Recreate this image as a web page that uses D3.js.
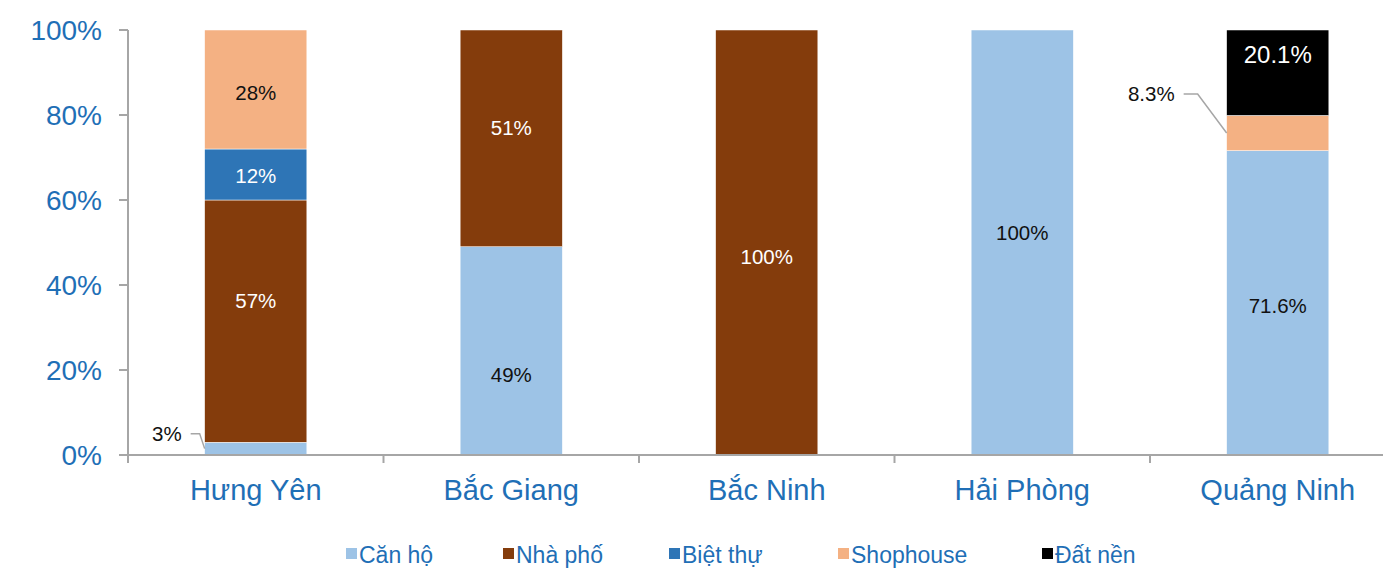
<!DOCTYPE html>
<html>
<head>
<meta charset="utf-8">
<script src="https://cdn.jsdelivr.net/npm/d3@7"></script>
<style>
  html, body { margin: 0; padding: 0; background: #fff; }
  svg { display: block; font-family: "Liberation Sans", Arial, sans-serif; }
</style>
</head>
<body>
<svg id="chart" width="1383" height="569"></svg>
<script>
// Cơ cấu nguồn cung theo loại hình, theo tỉnh (%)
const categories = ["Hưng Yên", "Bắc Giang", "Bắc Ninh", "Hải Phòng", "Quảng Ninh"];
const seriesNames = ["Căn hộ", "Nhà phố", "Biệt thự", "Shophouse", "Đất nền"];
const canHo     = [3, 49, 0, 100, 71.6];
const nhaPho    = [57, 51, 100, 0, 0];
const bietThu   = [12, 0, 0, 0, 0];
const shophouse = [28, 0, 0, 0, 8.3];
const datNen    = [0, 0, 0, 0, 20.1];
const yTicks    = [0, 20, 40, 60, 80, 100];
const labelText = [
  ["3%", "49%", "", "100%", "71.6%"],
  ["57%", "51%", "100%", "", ""],
  ["12%", "", "", "", ""],
  ["28%", "", "", "", "8.3%"],
  ["", "", "", "", "20.1%"]
];

// Styling
const colors = ["#9DC3E6", "#843C0C", "#2E75B6", "#F4B183", "#000000"];
const labelColors = ["#111", "#fff", "#fff", "#111", "#fff"];
const axisBlue = "#1F6FB6";
const axisGray = "#A6A6A6";

// Layout
const margin = { left: 128, top: 30, bottom: 455 };
const step = 255.5;
const legendX = [346, 503, 669, 838, 1042];
// vertical nudges (px) for label placement inside segments, keyed "series,category"
const labelNudge = {
  "3,0": 3, "1,0": -21, "2,0": 1,
  "1,1": -11, "0,1": 24,
  "1,2": 14, "0,3": -10,
  "0,4": 3, "4,4": -18
};
const labelSize = { "4,4": 24 };
// callouts drawn outside the bar with a leader line
const callouts = {
  "0,0": { sx: -14, ex: -5, dy: -15 },
  "3,4": { sx: -43, ex: -29, dy: -39 }
};

const svg = d3.select("#chart");
const seriesValues = [canHo, nhaPho, bietThu, shophouse, datNen];

const x = d3.scaleBand()
  .domain(categories)
  .range([margin.left, margin.left + step * categories.length])
  .paddingInner(0.6)
  .paddingOuter(0.3);

const y = d3.scaleLinear().domain([0, 100]).range([margin.bottom, margin.top]);

// Stack data
const rows = categories.map((c, i) => {
  const r = { cat: c };
  seriesNames.forEach((s, j) => { r[s] = seriesValues[j][i]; });
  return r;
});
const stacked = d3.stack().keys(seriesNames)(rows);

// Bars
stacked.forEach((layer, j) => {
  svg.append("g").selectAll("rect")
    .data(layer.filter(d => d[1] - d[0] > 0))
    .join("rect")
    .attr("x", d => x(d.data.cat))
    .attr("width", x.bandwidth())
    .attr("y", d => y(d[1]))
    .attr("height", d => y(d[0]) - y(d[1]))
    .attr("fill", colors[j])
    .attr("stroke", "#fff")
    .attr("stroke-width", 0.5);
});

// Y axis
const yAxis = svg.append("g");
yAxis.append("line")
  .attr("x1", margin.left).attr("x2", margin.left)
  .attr("y1", y(100)).attr("y2", margin.bottom + 8)
  .attr("stroke", axisGray).attr("stroke-width", 2);
yAxis.selectAll("line.tick").data(yTicks).join("line")
  .attr("class", "tick")
  .attr("x1", margin.left - 9).attr("x2", margin.left)
  .attr("y1", d => y(d)).attr("y2", d => y(d))
  .attr("stroke", axisGray).attr("stroke-width", 2);
yAxis.selectAll("text").data(yTicks).join("text")
  .attr("x", 102).attr("y", d => y(d))
  .attr("dy", "0.36em")
  .attr("text-anchor", "end")
  .attr("fill", axisBlue)
  .attr("font-size", 28)
  .text(d => d + "%");

// X axis
const xAxis = svg.append("g");
xAxis.append("line")
  .attr("x1", margin.left - 9).attr("x2", 1383)
  .attr("y1", y(0)).attr("y2", y(0))
  .attr("stroke", axisGray).attr("stroke-width", 2);
const bounds = d3.range(1, categories.length).map(i => margin.left + step * i);
xAxis.selectAll("line.tick").data(bounds).join("line")
  .attr("class", "tick")
  .attr("x1", d => d).attr("x2", d => d)
  .attr("y1", y(0)).attr("y2", y(0) + 8)
  .attr("stroke", axisGray).attr("stroke-width", 2);
xAxis.selectAll("text").data(categories).join("text")
  .attr("x", d => x(d) + x.bandwidth() / 2)
  .attr("y", 500)
  .attr("text-anchor", "middle")
  .attr("fill", axisBlue)
  .attr("font-size", 29)
  .text(d => d);

// Data labels
const labels = svg.append("g");
stacked.forEach((layer, j) => {
  layer.forEach((d, i) => {
    const t = labelText[j][i];
    if (!t) return;
    const key = j + "," + i;
    const mid = (y(d[0]) + y(d[1])) / 2;
    const size = labelSize[key] || 20.5;
    if (callouts[key]) {
      const c = callouts[key];
      const left = x(d.data.cat);
      labels.append("polyline")
        .attr("points", [[left + c.sx, mid + c.dy], [left + c.ex, mid + c.dy], [left, mid]].join(" "))
        .attr("fill", "none").attr("stroke", axisGray).attr("stroke-width", 1.5);
      labels.append("text")
        .attr("x", left + c.sx - 9).attr("y", mid + c.dy)
        .attr("dy", "0.36em")
        .attr("text-anchor", "end")
        .attr("fill", "#111")
        .attr("font-size", size)
        .text(t);
    } else {
      labels.append("text")
        .attr("x", x(d.data.cat) + x.bandwidth() / 2)
        .attr("y", mid + (labelNudge[key] || 0))
        .attr("dy", "0.36em")
        .attr("text-anchor", "middle")
        .attr("fill", labelColors[j])
        .attr("font-size", size)
        .text(t);
    }
  });
});

// Legend
const legend = svg.append("g");
seriesNames.forEach((s, j) => {
  const g = legend.append("g").attr("transform", `translate(${legendX[j]},0)`);
  g.append("rect").attr("x", 0).attr("y", 548).attr("width", 11).attr("height", 11).attr("fill", colors[j]);
  g.append("text").attr("x", 13).attr("y", 563)
    .attr("fill", axisBlue).attr("font-size", 23).text(s);
});
</script>
</body>
</html>
